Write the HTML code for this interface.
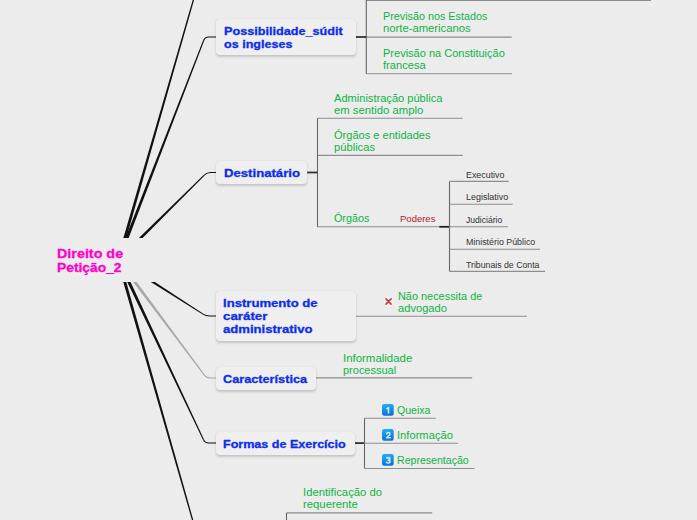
<!DOCTYPE html>
<html><head><meta charset="utf-8"><style>
html,body{margin:0;padding:0;}
body{width:697px;height:520px;overflow:hidden;background:#ececec;position:relative;font-family:"Liberation Sans",sans-serif;}
svg.main{position:absolute;left:0;top:0;}
.box{position:absolute;background:#efefef;border-radius:4px;box-shadow:0 1.5px 2.5px rgba(0,0,0,0.17),0 0 1px rgba(0,0,0,0.07);}
.cbox{position:absolute;left:47px;top:238px;width:113px;height:44px;background:#ececec;}
.t{position:absolute;white-space:nowrap;transform-origin:0 0;}
.b{-webkit-text-stroke:0.3px currentColor;}
.ic{position:absolute;}
</style></head><body>
<svg class="main" width="697" height="520" viewBox="0 0 697 520"><polygon points="119.94,260.42 206.48,-43.66 205.52,-43.94 117.06,259.58" fill="#111"/><polygon points="117.06,260.41 205.52,567.14 206.48,566.86 119.94,259.59" fill="#111"/><polygon points="119.99,260.58 204.25,40.46 203.22,40.06 117.01,259.42" fill="#111"/><path d="M203.73,40.26 Q205.00,37.00 208.50,37.00 L216.00,37.00" stroke="#111" stroke-width="1.1" fill="none"/><polygon points="119.62,261.14 204.90,175.35 204.12,174.57 117.38,258.86" fill="#111"/><path d="M204.51,174.96 Q207.00,172.50 210.50,172.50 L216.00,172.50" stroke="#111" stroke-width="1.1" fill="none"/><polygon points="117.64,261.35 202.76,314.58 203.35,313.65 119.36,258.65" fill="#111"/><path d="M203.05,314.11 Q206.00,316.00 209.50,316.00 L216.00,316.00" stroke="#111" stroke-width="1.1" fill="none"/><polygon points="117.22,260.96 203.97,375.52 204.85,374.87 119.78,259.04" fill="#a8a8a8"/><path d="M204.41,375.19 Q206.50,378.00 210.00,378.00 L216.00,378.00" stroke="#a8a8a8" stroke-width="1.1" fill="none"/><polygon points="117.05,260.68 203.01,440.07 204.00,439.60 119.95,259.32" fill="#111"/><path d="M203.50,439.84 Q205.00,443.00 208.50,443.00 L216.00,443.00" stroke="#111" stroke-width="1.1" fill="none"/></svg>
<div class="cbox"></div>
<svg class="main" width="697" height="520" viewBox="0 0 697 520"><line x1="366.3" y1="0.4" x2="651" y2="0.4" stroke="#8e8e8e" stroke-width="1.1"/><line x1="366.3" y1="37.1" x2="511.7" y2="37.1" stroke="#8e8e8e" stroke-width="1.1"/><line x1="366.3" y1="73.8" x2="512" y2="73.8" stroke="#8e8e8e" stroke-width="1.1"/><line x1="366.3" y1="0" x2="366.3" y2="73.8" stroke="#666" stroke-width="1.1"/><line x1="355.5" y1="37.0" x2="366.3" y2="37.0" stroke="#333" stroke-width="1.8"/><line x1="317.5" y1="118.2" x2="462.8" y2="118.2" stroke="#8e8e8e" stroke-width="1.1"/><line x1="317.5" y1="155.4" x2="462.8" y2="155.4" stroke="#8e8e8e" stroke-width="1.1"/><line x1="317.5" y1="226.8" x2="439.3" y2="226.8" stroke="#8e8e8e" stroke-width="1.1"/><line x1="317.5" y1="118.2" x2="317.5" y2="226.8" stroke="#666" stroke-width="1.1"/><line x1="307.2" y1="172.5" x2="317.5" y2="172.5" stroke="#333" stroke-width="1.8"/><line x1="439.3" y1="226.8" x2="449.5" y2="226.8" stroke="#222" stroke-width="1.8"/><line x1="449.5" y1="181.4" x2="449.5" y2="271.4" stroke="#666" stroke-width="1.1"/><line x1="449.5" y1="181.4" x2="508.7" y2="181.4" stroke="#8e8e8e" stroke-width="1.1"/><line x1="449.5" y1="204.2" x2="512.7" y2="204.2" stroke="#8e8e8e" stroke-width="1.1"/><line x1="449.5" y1="226.7" x2="507.9" y2="226.7" stroke="#8e8e8e" stroke-width="1.1"/><line x1="449.5" y1="249.3" x2="540.0" y2="249.3" stroke="#8e8e8e" stroke-width="1.1"/><line x1="449.5" y1="271.4" x2="545.0" y2="271.4" stroke="#8e8e8e" stroke-width="1.1"/><line x1="355.8" y1="316.2" x2="527" y2="316.2" stroke="#8e8e8e" stroke-width="1.1"/><line x1="315.5" y1="377.9" x2="472.2" y2="377.9" stroke="#8e8e8e" stroke-width="1.1"/><line x1="354.8" y1="443.1" x2="364.5" y2="443.1" stroke="#333" stroke-width="1.8"/><line x1="364.5" y1="418.2" x2="364.5" y2="468.5" stroke="#666" stroke-width="1.1"/><line x1="364.5" y1="418.2" x2="435.8" y2="418.2" stroke="#8e8e8e" stroke-width="1.1"/><line x1="364.5" y1="443.3" x2="458.2" y2="443.3" stroke="#8e8e8e" stroke-width="1.1"/><line x1="364.5" y1="468.5" x2="474.6" y2="468.5" stroke="#8e8e8e" stroke-width="1.1"/><line x1="286.5" y1="512.9" x2="432.2" y2="512.9" stroke="#8e8e8e" stroke-width="1.1"/><line x1="286.5" y1="512.9" x2="286.5" y2="521" stroke="#666" stroke-width="1.1"/></svg>
<div class="box" style="left:215.7px;top:18.5px;width:140.5px;height:36.5px"></div><div class="box" style="left:215.8px;top:160.7px;width:91.4px;height:22.9px"></div><div class="box" style="left:215.7px;top:290.7px;width:140.1px;height:50.0px"></div><div class="box" style="left:215.8px;top:366.6px;width:99.8px;height:23.2px"></div><div class="box" style="left:215.8px;top:431.7px;width:139.0px;height:23.1px"></div>
<svg class="ic" style="left:381.5px;top:403.5px" width="12" height="12" viewBox="0 0 12 12"><defs><linearGradient id="g1" x1="0.3" y1="0" x2="0.5" y2="1"><stop offset="0" stop-color="#1fb0f4"/><stop offset="1" stop-color="#0b6fdc"/></linearGradient></defs><rect x="0" y="0" width="11.7" height="11.7" rx="2.2" fill="url(#g1)"/><path d="M4.9,4.6 L6.5,3.6 L6.5,9.0" stroke="#e6f4ff" stroke-opacity="0.92" stroke-width="1.5" fill="none" stroke-linecap="round" stroke-linejoin="round"/></svg><svg class="ic" style="left:381.5px;top:428.5px" width="12" height="12" viewBox="0 0 12 12"><defs><linearGradient id="g2" x1="0.3" y1="0" x2="0.5" y2="1"><stop offset="0" stop-color="#1fb0f4"/><stop offset="1" stop-color="#0b6fdc"/></linearGradient></defs><rect x="0" y="0" width="11.7" height="11.7" rx="2.2" fill="url(#g2)"/><path d="M4.6,4.7 Q5.0,3.5 6.4,3.5 Q8.0,3.5 8.0,4.9 Q8.0,5.9 6.4,7.0 L4.6,8.7 L8.3,8.7" stroke="#e6f4ff" stroke-opacity="0.92" stroke-width="1.5" fill="none" stroke-linecap="round" stroke-linejoin="round"/></svg><svg class="ic" style="left:381.5px;top:453.5px" width="12" height="12" viewBox="0 0 12 12"><defs><linearGradient id="g3" x1="0.3" y1="0" x2="0.5" y2="1"><stop offset="0" stop-color="#1fb0f4"/><stop offset="1" stop-color="#0b6fdc"/></linearGradient></defs><rect x="0" y="0" width="11.7" height="11.7" rx="2.2" fill="url(#g3)"/><path d="M4.7,4.0 Q5.6,3.5 6.6,3.5 Q8.0,3.6 8.0,4.9 Q7.9,6.1 6.2,6.2 Q8.2,6.3 8.2,7.6 Q8.1,9.0 6.3,9.0 Q5.2,9.0 4.5,8.4" stroke="#e6f4ff" stroke-opacity="0.92" stroke-width="1.5" fill="none" stroke-linecap="round" stroke-linejoin="round"/></svg>
<svg class="ic" style="left:382px;top:295px" width="13" height="13" viewBox="0 0 13 13"><circle cx="6.5" cy="6.5" r="5.8" fill="#f4f4f4" stroke="#e4e4e4" stroke-width="0.6"/><path d="M3.9,3.9 L9.1,9.1 M9.1,3.9 L3.9,9.1" stroke="#d53535" stroke-width="1.55" stroke-linecap="round"/></svg>
<div class="t b" data-k="Direito de" style="left:57.00px;top:246.00px;font-size:12.6px;line-height:17px;font-weight:700;color:#ff00cc;transform:scaleX(1.1381)">Direito de</div><div class="t b" data-k="Petição_2" style="left:57.00px;top:260.00px;font-size:12.6px;line-height:17px;font-weight:700;color:#ff00cc;transform:scaleX(1.0974)">Petição_2</div><div class="t b" data-k="Possibilidade_súdit" style="left:223.60px;top:23.00px;font-size:11.6px;line-height:16px;font-weight:700;color:#0b2cf2;transform:scaleX(1.0900)">Possibilidade_súdit</div><div class="t b" data-k="os ingleses" style="left:223.60px;top:36.00px;font-size:11.6px;line-height:16px;font-weight:700;color:#0b2cf2;transform:scaleX(1.0834)">os ingleses</div><div class="t b" data-k="Destinatário" style="left:223.50px;top:165.00px;font-size:11.6px;line-height:16px;font-weight:700;color:#0b2cf2;transform:scaleX(1.1341)">Destinatário</div><div class="t b" data-k="Instrumento de" style="left:223.40px;top:295.00px;font-size:11.6px;line-height:16px;font-weight:700;color:#0b2cf2;transform:scaleX(1.1301)">Instrumento de</div><div class="t b" data-k="caráter" style="left:223.40px;top:308.00px;font-size:11.6px;line-height:16px;font-weight:700;color:#0b2cf2;transform:scaleX(1.1486)">caráter</div><div class="t b" data-k="administrativo" style="left:223.40px;top:321.00px;font-size:11.6px;line-height:16px;font-weight:700;color:#0b2cf2;transform:scaleX(1.1297)">administrativo</div><div class="t b" data-k="Característica" style="left:223.40px;top:371.00px;font-size:11.6px;line-height:16px;font-weight:700;color:#0b2cf2;transform:scaleX(1.0958)">Característica</div><div class="t b" data-k="Formas de Exercício" style="left:223.40px;top:436.00px;font-size:11.6px;line-height:16px;font-weight:700;color:#0b2cf2;transform:scaleX(1.0821)">Formas de Exercício</div><div class="t" data-k="Previsão nos Estados" style="left:382.60px;top:9.00px;font-size:10.5px;line-height:14px;font-weight:400;color:#0db445;transform:scaleX(1.0268)">Previsão nos Estados</div><div class="t" data-k="norte-americanos" style="left:382.60px;top:21.00px;font-size:10.5px;line-height:14px;font-weight:400;color:#0db445;transform:scaleX(1.0718)">norte-americanos</div><div class="t" data-k="Previsão na Constituição" style="left:382.50px;top:46.00px;font-size:10.5px;line-height:14px;font-weight:400;color:#0db445;transform:scaleX(1.0485)">Previsão na Constituição</div><div class="t" data-k="francesa" style="left:382.50px;top:58.00px;font-size:10.5px;line-height:14px;font-weight:400;color:#0db445;transform:scaleX(1.0592)">francesa</div><div class="t" data-k="Administração pública" style="left:333.60px;top:91.00px;font-size:10.5px;line-height:14px;font-weight:400;color:#0db445;transform:scaleX(1.0554)">Administração pública</div><div class="t" data-k="em sentido amplo" style="left:333.60px;top:103.00px;font-size:10.5px;line-height:14px;font-weight:400;color:#0db445;transform:scaleX(1.0778)">em sentido amplo</div><div class="t" data-k="Órgãos e entidades" style="left:333.60px;top:128.00px;font-size:10.5px;line-height:14px;font-weight:400;color:#0db445;transform:scaleX(1.0532)">Órgãos e entidades</div><div class="t" data-k="públicas" style="left:333.60px;top:140.00px;font-size:10.5px;line-height:14px;font-weight:400;color:#0db445;transform:scaleX(1.0645)">públicas</div><div class="t" data-k="Órgãos" style="left:334.00px;top:211.00px;font-size:10.5px;line-height:14px;font-weight:400;color:#0db445;transform:scaleX(1.0242)">Órgãos</div><div class="t" data-k="Poderes" style="left:400.00px;top:212.00px;font-size:9.5px;line-height:13px;font-weight:400;color:#b3202a;transform:scaleX(1.0009)">Poderes</div><div class="t" data-k="Executivo" style="left:465.70px;top:170.00px;font-size:8.4px;line-height:11px;font-weight:400;color:#333333;transform:scaleX(1.0580)">Executivo</div><div class="t" data-k="Legislativo" style="left:465.70px;top:192.00px;font-size:8.4px;line-height:11px;font-weight:400;color:#333333;transform:scaleX(1.0679)">Legislativo</div><div class="t" data-k="Judiciário" style="left:465.70px;top:215.00px;font-size:8.4px;line-height:11px;font-weight:400;color:#333333;transform:scaleX(1.0231)">Judiciário</div><div class="t" data-k="Ministério Público" style="left:466.00px;top:237.00px;font-size:8.4px;line-height:11px;font-weight:400;color:#333333;transform:scaleX(1.0552)">Ministério Público</div><div class="t" data-k="Tribunais de Conta" style="left:466.00px;top:260.00px;font-size:8.4px;line-height:11px;font-weight:400;color:#333333;transform:scaleX(1.0427)">Tribunais de Conta</div><div class="t" data-k="Não necessita de" style="left:398.00px;top:289.00px;font-size:10.5px;line-height:14px;font-weight:400;color:#0db445;transform:scaleX(1.0385)">Não necessita de</div><div class="t" data-k="advogado" style="left:398.00px;top:301.00px;font-size:10.5px;line-height:14px;font-weight:400;color:#0db445;transform:scaleX(1.0612)">advogado</div><div class="t" data-k="Informalidade" style="left:342.90px;top:351.00px;font-size:10.5px;line-height:14px;font-weight:400;color:#0db445;transform:scaleX(1.0886)">Informalidade</div><div class="t" data-k="processual" style="left:342.90px;top:363.00px;font-size:10.5px;line-height:14px;font-weight:400;color:#0db445;transform:scaleX(1.0464)">processual</div><div class="t" data-k="Queixa" style="left:396.90px;top:403.00px;font-size:10.5px;line-height:14px;font-weight:400;color:#0db445;transform:scaleX(1.0051)">Queixa</div><div class="t" data-k="Informação" style="left:397.30px;top:428.00px;font-size:10.5px;line-height:14px;font-weight:400;color:#0db445;transform:scaleX(1.0645)">Informação</div><div class="t" data-k="Representação" style="left:397.30px;top:453.00px;font-size:10.5px;line-height:14px;font-weight:400;color:#0db445;transform:scaleX(1.0072)">Representação</div><div class="t" data-k="Identificação do" style="left:303.00px;top:485.00px;font-size:10.5px;line-height:14px;font-weight:400;color:#0db445;transform:scaleX(1.0741)">Identificação do</div><div class="t" data-k="requerente" style="left:303.00px;top:497.00px;font-size:10.5px;line-height:14px;font-weight:400;color:#0db445;transform:scaleX(1.0787)">requerente</div>
</body></html>
